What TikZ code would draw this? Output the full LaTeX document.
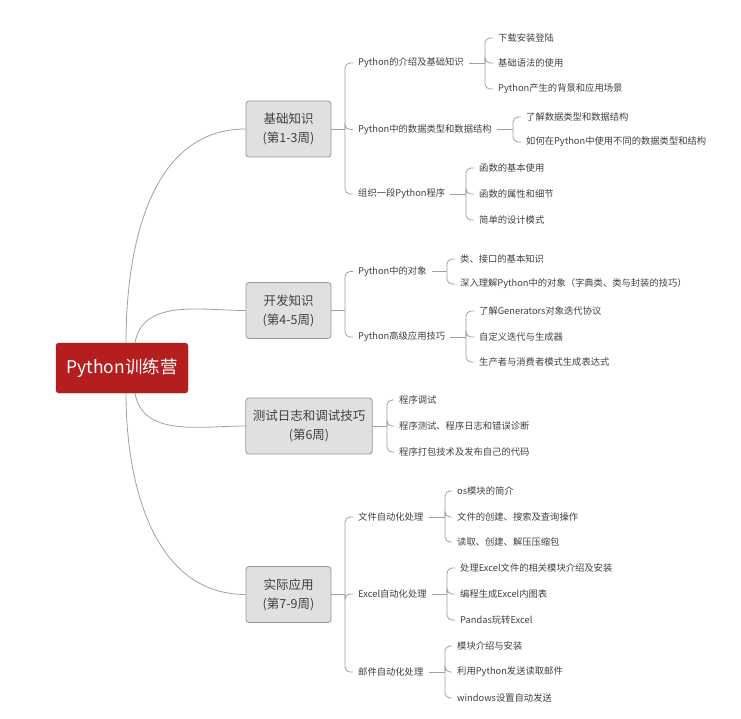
\documentclass[tikz,border=0pt]{standalone}
\usepackage{fontspec}
\newfontfamily\cjk{Noto Sans CJK SC}
\usetikzlibrary{backgrounds}
\definecolor{rootred}{RGB}{181,30,30}
\definecolor{boxfill}{RGB}{224,224,224}
\definecolor{boxline}{RGB}{150,150,150}
\definecolor{linegrey}{RGB}{160,160,160}
\definecolor{txt}{RGB}{64,64,64}
\tikzset{
  rootbox/.style={draw=rootred!85!black, fill=rootred, rounded corners=3pt, text=white,
    font=\cjk\fontsize{17.5}{20}\selectfont, minimum width=132pt, minimum height=50pt},
  topicbox/.style={draw=boxline, fill=boxfill, rounded corners=3pt, text=txt, line width=0.8pt,
    font=\cjk\fontsize{12.5}{19}\selectfont, align=center, minimum width=85pt,
    minimum height=56pt, inner xsep=7pt},
  subtopic/.style={text=txt, font=\cjk\fontsize{9.3}{11}\selectfont, anchor=west,
    inner xsep=5pt, inner ysep=2pt},
  branch/.style={draw=linegrey, line width=0.8pt},
  bracket/.style={branch, rounded corners=5pt},
}
\begin{document}
\begin{tikzpicture}[x=1pt,y=-1pt]
    \useasboundingbox (0,0) rectangle (741,718);
    % Root and topics
    \node[rootbox] (root) at (122,368) {Python训练营};
    \node[topicbox] (basic) at (288.5,129) {基础知识\\(第1-3周)};
    \node[topicbox] (dev) at (288.5,310.5) {开发知识\\(第4-5周)};
    \node[topicbox] (debug) at (309,426) {测试日志和调试技巧\\(第6周)};
    \node[topicbox] (apply) at (288.5,594.5) {实际应用\\(第7-9周)};

    % Curves from the root
    \begin{scope}[on background layer]
    \draw[branch] ([xshift=4pt]root.north) to[out=90,in=180] (basic.west);
    \draw[branch] ([xshift=13pt]root.north) to[out=80,in=180] (dev.west);
    \draw[branch] ([xshift=13pt]root.south) to[out=-80,in=180] (debug.west);
    \draw[branch] ([xshift=4pt]root.south) to[out=-90,in=180] (apply.west);
    \end{scope}

    % Subtopics
    \node[subtopic] (pyintro) at (353,63) {Python的介绍及基础知识};
    \node[subtopic] (pytypes) at (353,129.5) {Python中的数据类型和数据结构};
    \node[subtopic] (pyprog) at (353,194) {组织一段Python程序};
    \node[subtopic] (pyobj) at (353,271.5) {Python中的对象};
    \node[subtopic] (pyadv) at (353,337) {Python高级应用技巧};
    \node[subtopic] (fileauto) at (353,517) {文件自动化处理};
    \node[subtopic] (xlsauto) at (353,594) {Excel自动化处理};
    \node[subtopic] (mailauto) at (353,672) {邮件自动化处理};

    % Leaves
    \node[subtopic] (intro1) at (493,38) {下载安装登陆};
    \node[subtopic] (intro2) at (493,63) {基础语法的使用};
    \node[subtopic] (intro3) at (493,89) {Python产生的背景和应用场景};
    \node[subtopic] (types1) at (521,117) {了解数据类型和数据结构};
    \node[subtopic] (types2) at (521,142) {如何在Python中使用不同的数据类型和结构};
    \node[subtopic] (prog1) at (474,168) {函数的基本使用};
    \node[subtopic] (prog2) at (474,194) {函数的属性和细节};
    \node[subtopic] (prog3) at (474,220) {简单的设计模式};
    \node[subtopic] (obj1) at (455,259) {类、接口的基本知识};
    \node[subtopic] (obj2) at (455,284) {深入理解Python中的对象（字典类、类与封装的技巧）};
    \node[subtopic] (adv1) at (474,311) {了解Generators对象迭代协议};
    \node[subtopic] (adv2) at (474,337) {自定义迭代与生成器};
    \node[subtopic] (adv3) at (474,362) {生产者与消费者模式生成表达式};
    \node[subtopic] (dbg1) at (394,400) {程序调试};
    \node[subtopic] (dbg2) at (394,426) {程序测试、程序日志和错误诊断};
    \node[subtopic] (dbg3) at (394,452) {程序打包技术及发布自己的代码};
    \node[subtopic] (file1) at (452,491) {os模块的简介};
    \node[subtopic] (file2) at (452,517) {文件的创建、搜索及查询操作};
    \node[subtopic] (file3) at (452,542) {读取、创建、解压压缩包};
    \node[subtopic] (xls1) at (455,568) {处理Excel文件的相关模块介绍及安装};
    \node[subtopic] (xls2) at (455,594) {编程生成Excel内图表};
    \node[subtopic] (xls3) at (455,620) {Pandas玩转Excel};
    \node[subtopic] (mail1) at (452,646) {模块介绍与安装};
    \node[subtopic] (mail2) at (452,672) {利用Python发送读取邮件};
    \node[subtopic] (mail3) at (452,698) {windows设置自动发送};

    % Bracket joints
    \coordinate (basicj) at (345,129);
    \coordinate (devj) at (345,310.5);
    \coordinate (debugj) at (387,426);
    \coordinate (applyj) at (345,594.5);
    \coordinate (pyintroj) at (485,63);
    \coordinate (pytypesj) at (513,129.5);
    \coordinate (pyprogj) at (466,194);
    \coordinate (pyobjj) at (447,271.5);
    \coordinate (pyadvj) at (466,337);
    \coordinate (fileautoj) at (445,517);
    \coordinate (xlsautoj) at (447,594);
    \coordinate (mailautoj) at (445,672);

    % Brackets
    \draw[branch] (basic.east) -- (basicj);
    \draw[branch] (dev.east) -- (devj);
    \draw[branch] (debug.east) -- (debugj);
    \draw[branch] (apply.east) -- (applyj);
    \foreach \p/\kids in {basic/{pyintro,pytypes,pyprog}, dev/{pyobj,pyadv},
        debug/{dbg1,dbg2,dbg3}, apply/{fileauto,xlsauto,mailauto},
        pyintro/{intro1,intro2,intro3}, pytypes/{types1,types2},
        pyprog/{prog1,prog2,prog3}, pyobj/{obj1,obj2}, pyadv/{adv1,adv2,adv3},
        fileauto/{file1,file2,file3}, xlsauto/{xls1,xls2,xls3},
        mailauto/{mail1,mail2,mail3}}
      \foreach \k in \kids
        \draw[bracket] (\p j) |- (\k.west);
    \foreach \p in {pyintro,pytypes,pyprog,pyobj,pyadv,fileauto,xlsauto,mailauto}
      \draw[branch] (\p.east) -- (\p j);
\end{tikzpicture}
\end{document}
